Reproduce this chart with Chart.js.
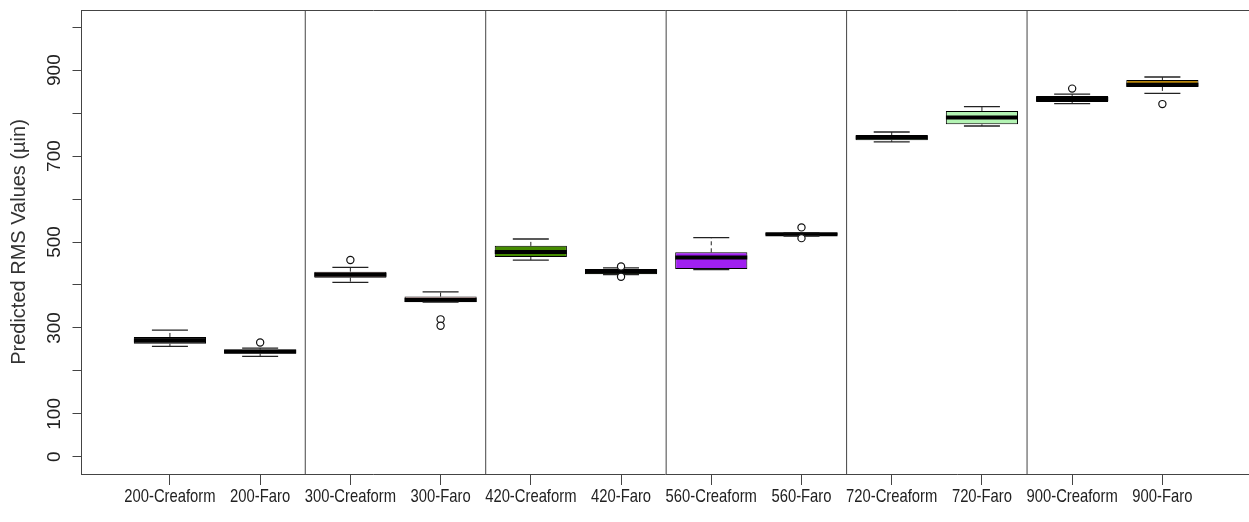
<!DOCTYPE html>
<html><head><meta charset="utf-8">
<script src="https://cdn.jsdelivr.net/npm/chart.js@4.4.1/dist/chart.umd.min.js"></script>
<style>html,body{margin:0;padding:0;background:#fff;overflow:hidden}</style>
</head><body>
<canvas id="c" width="1249" height="522"></canvas>
<script>
// ---- data ----
const categories = ['200-Creaform','200-Faro','300-Creaform','300-Faro','420-Creaform','420-Faro','560-Creaform','560-Faro','720-Creaform','720-Faro','900-Creaform','900-Faro'];
const whiskerLow  = [257, 234, 406, 360, 458, 424, 436, 514, 733, 770, 822, 846];
const q1          = [263, 240, 417, 360, 465, 425, 437, 515, 737, 774, 826, 861];
const median      = [271, 245, 424, 365, 477, 431, 464, 518, 743, 790, 833, 866];
const q3          = [279, 250, 431, 373, 491, 437, 476, 521, 749, 805, 840, 877];
const whiskerHigh = [295, 253, 441, 384, 507, 440, 510, 522, 756, 815, 844, 884];
const outliers    = [[], [266], [458], [320, 305], [], [443, 419], [], [534, 509], [], [], [857], [821]];
const boxColors   = ['#333333','#333333','#BC8F8F','#BC8F8F','#458B00','#458B00','#A020F0','#A020F0','#B4F4B4','#B4F4B4','#B8860B','#B8860B'];
const yTickValues = [0,100,200,300,400,500,600,700,800,900,1000];
const yLabelValues = [0,100,300,500,700,900];
const separators  = [2.5, 4.5, 6.5, 8.5, 10.5];
const yTitle = 'Predicted RMS Values (µin)';
const yMin = -40, yMax = 1040, xMin = 0.02, xMax = 12.96;

// ---- build datasets ----
const boxData = categories.map((c,i)=>({x:i+1, y:[q1[i], q3[i]]}));
const medianData = categories.map((c,i)=>({x:i+1, y:median[i]}));
const capData = [];
const whiskerData = [];
categories.forEach((c,i)=>{
  capData.push({x:i+1, y:whiskerHigh[i]}, {x:i+1, y:whiskerLow[i]});
  whiskerData.push({x:i+1, y:q3[i]}, {x:i+1, y:whiskerHigh[i]}, {x:i+1, y:null},
                   {x:i+1, y:q1[i]}, {x:i+1, y:whiskerLow[i]}, {x:i+1, y:null});
});
const outlierData = [];
outliers.forEach((arr,i)=>arr.forEach(v=>outlierData.push({x:i+1, y:v})));
const sepData = [];
separators.forEach(s=>sepData.push({x:s, y:yMin}, {x:s, y:yMax}, {x:s, y:null}));

const zeroPad = s => { s.paddingLeft = 0; s.paddingRight = 0; s.paddingTop = 0; s.paddingBottom = 0; };

const extras = {
  id:'extras',
  afterDraw(chart){
    const {ctx, chartArea:a} = chart;
    const sx = chart.scales.x;
    ctx.save();
    // top edge of the plot frame
    ctx.strokeStyle = '#444'; ctx.lineWidth = 1;
    ctx.beginPath(); ctx.moveTo(a.left, Math.round(a.top)+0.5); ctx.lineTo(a.right, Math.round(a.top)+0.5); ctx.stroke();
    // category labels (condensed, as in the reference)
    ctx.fillStyle = '#222';
    ctx.font = '18.5px "Liberation Sans", Arial, sans-serif';
    ctx.textAlign = 'center'; ctx.textBaseline = 'middle';
    categories.forEach((c,i)=>{
      const x = sx.getPixelForValue(i+1);
      ctx.save(); ctx.translate(x, sx.top + 23); ctx.scale(0.8, 1); ctx.fillText(c, 0, 0); ctx.restore();
    });
    ctx.restore();
  }
};

new Chart(document.getElementById('c'), {
  type:'bar',
  data:{datasets:[
    {type:'line', data:sepData, borderColor:'#444', borderWidth:1, pointRadius:0, spanGaps:false, order:6},
    {type:'line', data:whiskerData, borderColor:'#222', borderWidth:1, borderDash:[4,3], pointRadius:0, spanGaps:false, order:5},
    {type:'bar', data:boxData, backgroundColor:boxColors, borderColor:'#000', borderWidth:1, borderSkipped:false,
     categoryPercentage:1, barPercentage:0.8, order:4},
    {type:'scatter', data:medianData, pointStyle:'line', pointRadius:36, pointBorderWidth:4, pointBorderColor:'#000', order:3},
    {type:'scatter', data:capData, pointStyle:'line', pointRadius:18, pointBorderWidth:1.3, pointBorderColor:'#222', order:2},
    {type:'scatter', data:outlierData, pointStyle:'circle', pointRadius:3.6, pointBorderWidth:1.2, pointBorderColor:'#111', pointBackgroundColor:'#fff', order:1}
  ]},
  options:{
    responsive:false, animation:false, devicePixelRatio:1, events:[],
    layout:{autoPadding:false, padding:{left:0, top:10, right:0, bottom:0}},
    plugins:{legend:{display:false}, tooltip:{enabled:false}},
    scales:{
      x:{type:'linear', min:xMin, max:xMax, offset:false,
        afterBuildTicks:s=>{ s.ticks = categories.map((c,i)=>({value:i+1})); },
        afterFit:s=>{ s.height = 48; zeroPad(s); },
        ticks:{display:false, autoSkip:false, maxRotation:0, minRotation:0},
        grid:{offset:false, drawOnChartArea:false, drawTicks:true, tickLength:11, color:'#444'},
        border:{display:true, color:'#444', width:1}
      },
      y:{type:'linear', min:yMin, max:yMax,
        afterBuildTicks:s=>{ s.ticks = yTickValues.map(v=>({value:v})); },
        afterFit:s=>{ s.width = 81.5; zeroPad(s); },
        ticks:{callback:v=>yLabelValues.includes(v) ? String(v) : '', minRotation:90, maxRotation:90,
               crossAlign:'center', padding:2, font:{family:'"Liberation Sans", Arial, sans-serif', size:19}, color:'#222'},
        grid:{drawOnChartArea:false, drawTicks:true, tickLength:9, color:'#444'},
        border:{display:true, color:'#444', width:1},
        title:{display:true, text:yTitle, color:'#333', padding:{top:7, bottom:0},
               font:{family:'"Liberation Sans", Arial, sans-serif', size:20}}
      }
    }
  },
  plugins:[extras]
});
</script>
</body></html>
